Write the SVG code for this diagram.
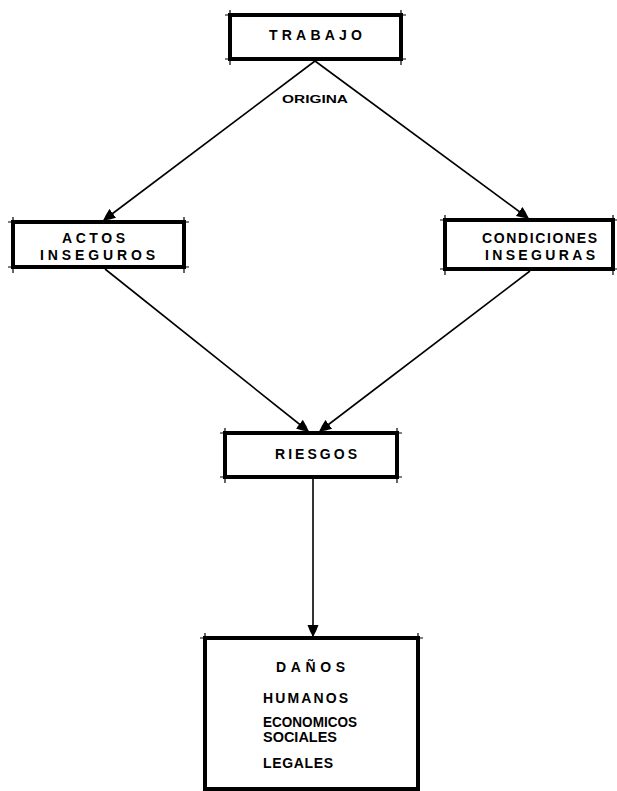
<svg xmlns="http://www.w3.org/2000/svg" width="617" height="791" viewBox="0 0 617 791">
<style>
.box{fill:#fff;stroke:#000;stroke-width:4}
.tick{stroke:#000;stroke-width:1.2;fill:none}
.lbl{font-family:"Liberation Sans",Arial,sans-serif;font-weight:bold;font-size:14px;fill:#000}
.small{font-size:11px}
.conn{stroke:#000;stroke-width:1.6;fill:none}
</style>
<defs>
<marker id="ah" viewBox="0 0 12 12" refX="11" refY="6" markerWidth="12" markerHeight="12" markerUnits="userSpaceOnUse" orient="auto">
<path d="M0,0.5 Q6,2.5 12,6 Q6,9.5 0,11.5 Z" fill="#000"/>
</marker>
</defs>
<rect width="617" height="791" fill="#fff"/>
<g id="connectors">
<line class="conn" x1="315" y1="61" x2="104" y2="220" marker-end="url(#ah)"/>
<line class="conn" x1="315" y1="61" x2="528" y2="218" marker-end="url(#ah)"/>
<line class="conn" x1="105" y1="269" x2="308" y2="431" marker-end="url(#ah)"/>
<line class="conn" x1="530" y1="271" x2="320" y2="431" marker-end="url(#ah)"/>
<line class="conn" x1="313" y1="479" x2="313" y2="636" marker-end="url(#ah)"/>
<text class="lbl small" x="282" y="103" textLength="66" lengthAdjust="spacingAndGlyphs">ORIGINA</text>
</g>
<g id="trabajo">
<rect class="box" x="230" y="15" width="171" height="44"/>
<path class="tick" d="M225,15H406M225,59H406M230,10V65M401,10V65"/>
<text class="lbl" x="269" y="40" textLength="93" lengthAdjust="spacing">TRABAJO</text>
</g>
<g id="actos">
<rect class="box" x="13" y="222" width="171" height="45"/>
<path class="tick" d="M8,222H189M8,267H189M13,217V273M184,217V273"/>
<text class="lbl" x="62" y="243" textLength="63" lengthAdjust="spacing">ACTOS</text>
<text class="lbl" x="40" y="260" textLength="115" lengthAdjust="spacing">INSEGUROS</text>
</g>
<g id="condiciones">
<rect class="box" x="445" y="220" width="168" height="49"/>
<path class="tick" d="M440,220H617M440,269H617M445,215V275M613,215V275"/>
<text class="lbl" x="482" y="243" textLength="115" lengthAdjust="spacing">CONDICIONES</text>
<text class="lbl" x="485" y="260" textLength="110" lengthAdjust="spacing">INSEGURAS</text>
</g>
<g id="riesgos">
<rect class="box" x="225" y="433" width="172" height="44"/>
<path class="tick" d="M220,433H402M220,477H402M225,428V483M397,428V483"/>
<text class="lbl" x="275" y="459" textLength="82" lengthAdjust="spacing">RIESGOS</text>
</g>
<g id="danos">
<rect class="box" x="205" y="638" width="213" height="151"/>
<path class="tick" d="M200,638H423M205,633V791M418,633V791"/>
<text class="lbl" x="276" y="672" textLength="69" lengthAdjust="spacing">DAÑOS</text>
<text class="lbl" x="263" y="703" textLength="85" lengthAdjust="spacing">HUMANOS</text>
<text class="lbl" x="263" y="727" textLength="94" lengthAdjust="spacingAndGlyphs">ECONOMICOS</text>
<text class="lbl" x="263" y="742" textLength="74" lengthAdjust="spacingAndGlyphs">SOCIALES</text>
<text class="lbl" x="263" y="768" textLength="70" lengthAdjust="spacing">LEGALES</text>
</g>
</svg>
